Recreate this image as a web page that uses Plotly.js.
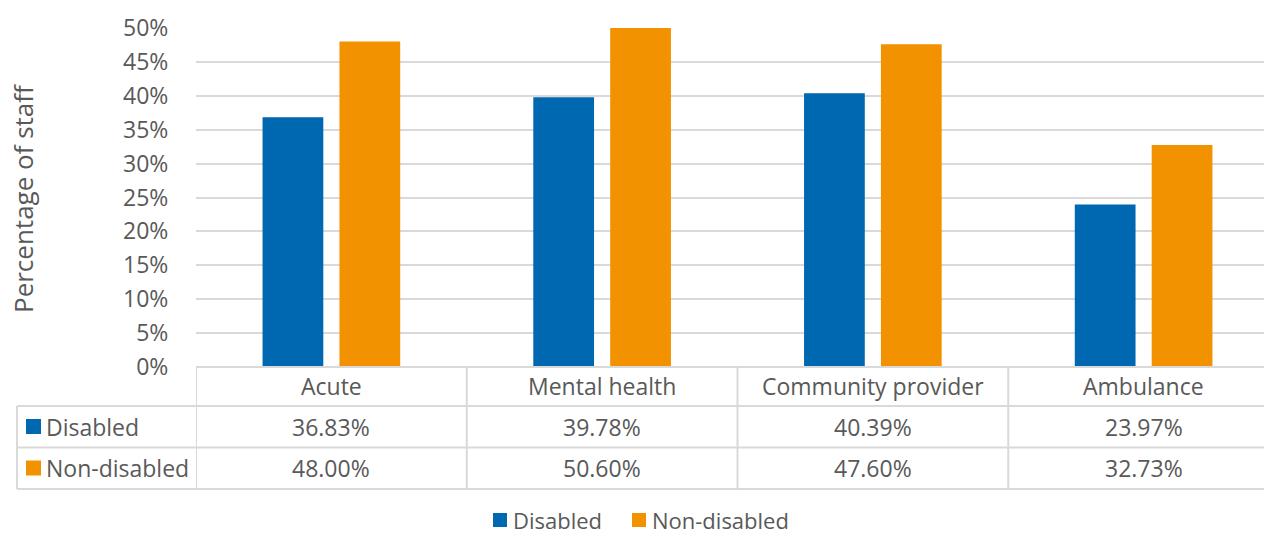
<!DOCTYPE html>
<html>
<head>
<meta charset="utf-8">
<script src="https://cdn.plot.ly/plotly-3.0.1.min.js"></script>
<style>html,body{margin:0;padding:0;background:#fff;}#chart{width:1264px;height:536px;}</style>
</head>
<body>
<div id="chart"></div>
<script>
const categories = ["Acute", "Mental health", "Community provider", "Ambulance"];
const seriesNames = ["Disabled", "Non-disabled"];
const disabled = [0.3683, 0.3978, 0.4039, 0.2397];
const nonDisabled = [0.4800, 0.5060, 0.4760, 0.3273];
const colors = ["#0067B1", "#F39200"];
const yTitle = "Percentage of staff";

const W = 1264, H = 536;
const L = 196, R = 0, T = 28, B = 536 - 367;
const plotW = W - L - R, plotH = H - T - B;
const xp = px => (px - L) / plotW;
const yp = py => (H - B - py) / plotH;
const txt = "#595959", grid = "#d9d9d9";
const FONT = "Open Sans, sans-serif";
const FS = 23;

const data = [
  {type: "bar", name: seriesNames[0], x: categories.map((c, i) => i), y: disabled, marker: {color: colors[0]}},
  {type: "bar", name: seriesNames[1], x: categories.map((c, i) => i), y: nonDisabled, marker: {color: colors[1]}}
];

const shapes = [];
const annotations = [];
const line = (x0, y0, x1, y1) => shapes.push({type: "line", xref: "paper", yref: "paper", x0, y0, x1, y1, line: {color: grid, width: 2}});

// horizontal table lines
line(xp(L), yp(367), 1, yp(367));
[406, 447.5, 489].forEach(py => line(xp(17), yp(py), 1, yp(py)));
// vertical lines
line(xp(17), yp(406), xp(17), yp(489));
categories.forEach((c, i) => {
  shapes.push({type: "line", xref: "x", yref: "paper", x0: i - 0.5, x1: i - 0.5, y0: yp(367), y1: yp(489), line: {color: grid, width: 2}});
});
shapes.push({type: "line", xref: "x", yref: "paper", x0: 3.5, x1: 3.5, y0: yp(367), y1: yp(489), line: {color: grid, width: 2}});

// category labels and values
const rows = [disabled, nonDisabled];
const rowY = [426.5, 468];
categories.forEach((c, i) => {
  annotations.push({xref: "x", yref: "paper", x: i, y: yp(386), text: c, showarrow: false, xanchor: "center", yanchor: "middle", font: {family: FONT, size: FS, color: txt}});
  rows.forEach((r, k) => {
    annotations.push({xref: "x", yref: "paper", x: i, y: yp(rowY[k]), text: (r[i] * 100).toFixed(2) + "%", showarrow: false, xanchor: "center", yanchor: "middle", font: {family: FONT, size: FS, color: txt}});
  });
});
// row headers
seriesNames.forEach((n, k) => {
  shapes.push({type: "rect", xref: "paper", yref: "paper", x0: xp(26), x1: xp(41), y0: yp(rowY[k] - 7.5), y1: yp(rowY[k] + 7.5), fillcolor: colors[k], line: {width: 0}});
  annotations.push({xref: "paper", yref: "paper", x: xp(44), y: yp(rowY[k]), text: n, showarrow: false, xanchor: "left", yanchor: "middle", font: {family: FONT, size: FS, color: txt}});
});
// legend (custom)
const legX = [493, 632];
const legY = 520;
seriesNames.forEach((n, k) => {
  shapes.push({type: "rect", xref: "paper", yref: "paper", x0: xp(legX[k]), x1: xp(legX[k] + 14), y0: yp(legY + 7), y1: yp(legY - 7), fillcolor: colors[k], line: {width: 0}});
  annotations.push({xref: "paper", yref: "paper", x: xp(legX[k] + 19), y: yp(legY), text: n, showarrow: false, borderpad: 0, xanchor: "left", yanchor: "middle", font: {family: FONT, size: 22, color: txt}});
});
// y title
annotations.push({xref: "paper", yref: "paper", x: xp(23), y: yp(199), text: yTitle, textangle: -90, showarrow: false, xanchor: "center", yanchor: "middle", font: {family: FONT, size: 26, color: txt}});

const layout = {
  width: W, height: H,
  margin: {l: L, r: R, t: T, b: B, pad: 0, autoexpand: false},
  paper_bgcolor: "#fff", plot_bgcolor: "#fff",
  barmode: "group", bargap: 0.432, bargroupgap: 0.21,
  xaxis: {range: [-0.5, 3.5 - 15 / 271], showticklabels: false, showgrid: false, zeroline: false, showline: false, fixedrange: true},
  yaxis: {range: [0, 0.5], dtick: 0.05, tickformat: ".0%", showgrid: true, gridcolor: grid, gridwidth: 2, zeroline: false, showline: false,
          ticks: "outside", ticklen: 22, tickcolor: "rgba(0,0,0,0)", tickfont: {family: FONT, size: FS, color: txt}},
  showlegend: false,
  shapes, annotations
};

Plotly.newPlot("chart", data, layout, {displayModeBar: false, staticPlot: true});
</script>
</body>
</html>
